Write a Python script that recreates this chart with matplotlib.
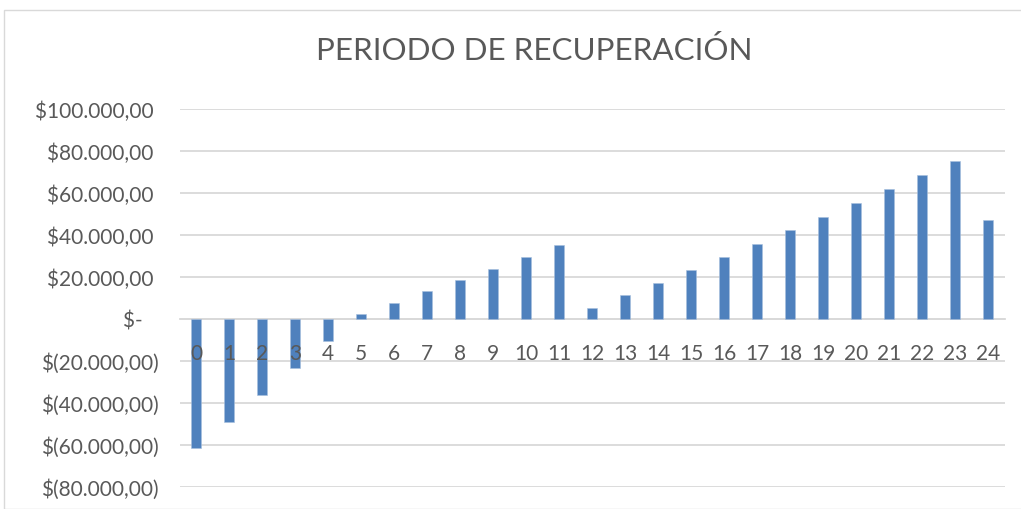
import matplotlib.pyplot as plt
from matplotlib.patches import Rectangle
from matplotlib.ticker import FuncFormatter

# periodos y flujo acumulado
periodos = list(range(25))
flujo = [-61600, -48900, -36200, -23300, -10500,
         2540, 7780, 13170, 18400, 24000, 29400, 35240,
         5430, 11290, 17330, 23330, 29700, 35900, 42240,
         48430, 55100, 61760, 68570, 75400, 47000]
y_ticks = [-80000, -60000, -40000, -20000, 0, 20000, 40000, 60000, 80000, 100000]
titulo = "PERIODO DE RECUPERACIÓN"

plt.rcParams['font.family'] = ['Lato', 'DejaVu Sans']

def moneda(v, pos=None):
    if v == 0:
        return "$-   "
    s = f"{abs(v):,.2f}".replace(",", "X").replace(".", ",").replace("X", ".")
    if v < 0:
        return "$(" + s + ")"
    return "$" + s + " "

fig = plt.figure(figsize=(10.21, 5.10), dpi=100)
W, H = 1021, 510
ax = fig.add_axes([179.5 / W, 1 - 488 / H, (1004.5 - 179.5) / W, (488 - 110) / H])

ax.bar(periodos, flujo, width=0.3, color='#4f81bd', edgecolor='#a7bfdd', linewidth=0.4, zorder=2)

ax.set_xlim(-0.5, 24.5)
ax.set_ylim(-80000, 100000)
ax.set_yticks(y_ticks)
ax.yaxis.set_major_formatter(FuncFormatter(moneda))
ax.set_xticks(periodos)
ax.set_xticklabels([str(p) for p in periodos])
ax.grid(axis='y', color='#d9d9d9', linewidth=1.3, zorder=0)
ax.set_axisbelow(True)
ax.xaxis.set_zorder(5)

for s in ['top', 'right', 'left']:
    ax.spines[s].set_visible(False)
ax.spines['bottom'].set_position(('data', 0))
ax.spines['bottom'].set_color('#d9d9d9')
ax.spines['bottom'].set_linewidth(1.3)
ax.spines['bottom'].set_zorder(1)
ax.tick_params(axis='y', length=0, pad=15, labelsize=15, labelcolor='#595959')
ax.tick_params(axis='x', length=0, pad=17, labelsize=15, labelcolor='#595959')

fig.text(534 / W, 1 - 50 / H, titulo, ha='center', va='center', fontsize=22.6, color='#595959')

fig.patches.append(Rectangle((3.5 / W, 0), 1.1, 1 - 11 / H, transform=fig.transFigure,
                             fill=False, edgecolor='#d9d9d9', linewidth=1.0))

fig.savefig('out.png', dpi=100)
